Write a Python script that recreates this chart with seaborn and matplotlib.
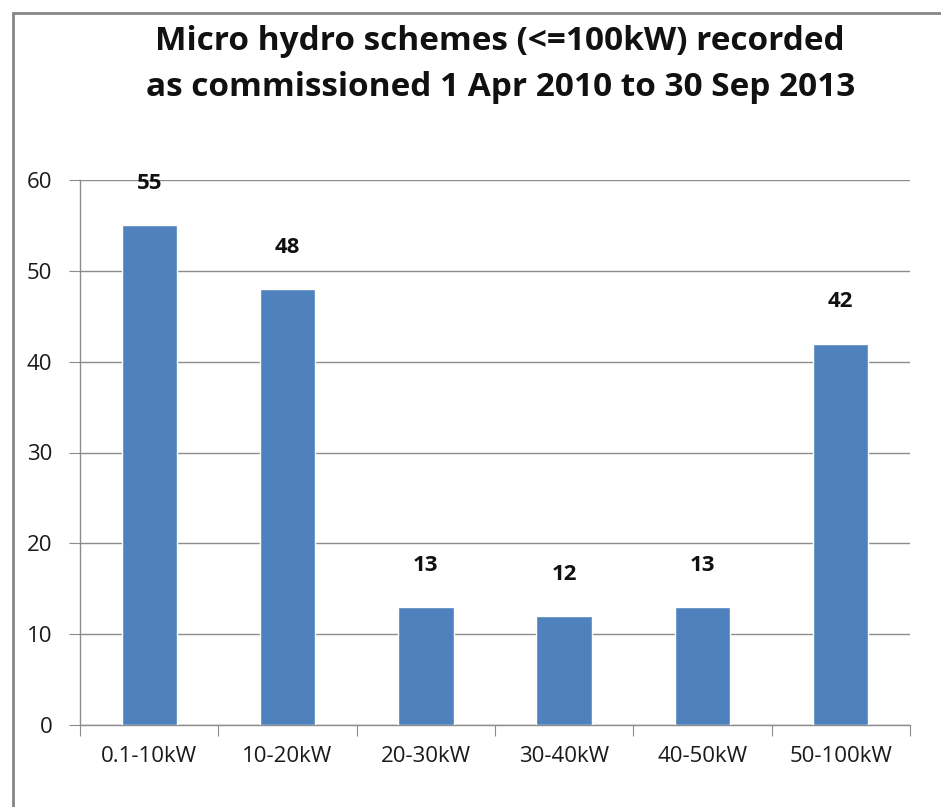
import seaborn as sns
import matplotlib.pyplot as plt
import pandas as pd
from matplotlib.patches import Rectangle

# chart data
categories = ['0.1-10kW', '10-20kW', '20-30kW', '30-40kW', '40-50kW', '50-100kW']
schemes = [55, 48, 13, 12, 13, 42]
y_ticks = [0, 10, 20, 30, 40, 50, 60]

df = pd.DataFrame({'band': categories, 'count': schemes})

sns.set_style('white')
plt.rcParams['font.family'] = ['Open Sans', 'DejaVu Sans']

fig = plt.figure(figsize=(9.41, 8.07), dpi=100)
ax = fig.add_axes([80 / 941, 1 - 725 / 807, 830 / 941, 545 / 807])

sns.barplot(data=df, x='band', y='count', color='#4F81BD', width=0.4,
            saturation=1, ax=ax, zorder=3)

# value labels above the bars
for i, v in enumerate(schemes):
    ax.annotate(str(v), (i, v), xytext=(0, 30), textcoords='offset points',
                ha='center', va='center', fontsize=16, fontweight='bold',
                color='#111111')

ax.set_ylim(0, 60)
ax.set_xlim(-0.5, len(categories) - 0.5)
ax.set_yticks(y_ticks)
ax.yaxis.grid(True, color='#8c8c8c', linewidth=1, zorder=0)
ax.set_xlabel('')
ax.set_ylabel('')

for s in ['top', 'right']:
    ax.spines[s].set_visible(False)
for s in ['left', 'bottom']:
    ax.spines[s].set_color('#8c8c8c')
    ax.spines[s].set_linewidth(1)

# x ticks at category boundaries, labels in between
ax.set_xticks([i - 0.5 for i in range(len(categories) + 1)], minor=False)
ax.set_xticklabels([])
ax.set_xticks(range(len(categories)), minor=True)
ax.set_xticklabels(categories, minor=True)
ax.tick_params(axis='x', which='major', length=8, color='#8c8c8c', direction='out', bottom=True)
ax.tick_params(axis='x', which='minor', length=0, pad=15, labelsize=16, labelcolor='#1a1a1a')
ax.tick_params(axis='y', length=8, color='#8c8c8c', direction='out', left=True,
               pad=12, labelsize=16, labelcolor='#1a1a1a')

fig.text(0.531, 1 - 42 / 807, 'Micro hydro schemes (<=100kW) recorded',
         ha='center', va='center', fontsize=24, fontweight='bold', color='#111111')
fig.text(0.532, 1 - 88 / 807, 'as commissioned 1 Apr 2010 to 30 Sep 2013',
         ha='center', va='center', fontsize=24, fontweight='bold', color='#111111')

# chart border (cropped at right and bottom)
fig.patches.append(Rectangle((13 / 941, -0.1), 1.2, 1.1 - 13 / 807,
                             transform=fig.transFigure, fill=False,
                             edgecolor='#868686', linewidth=2))

fig.savefig('out.png', dpi=100)
